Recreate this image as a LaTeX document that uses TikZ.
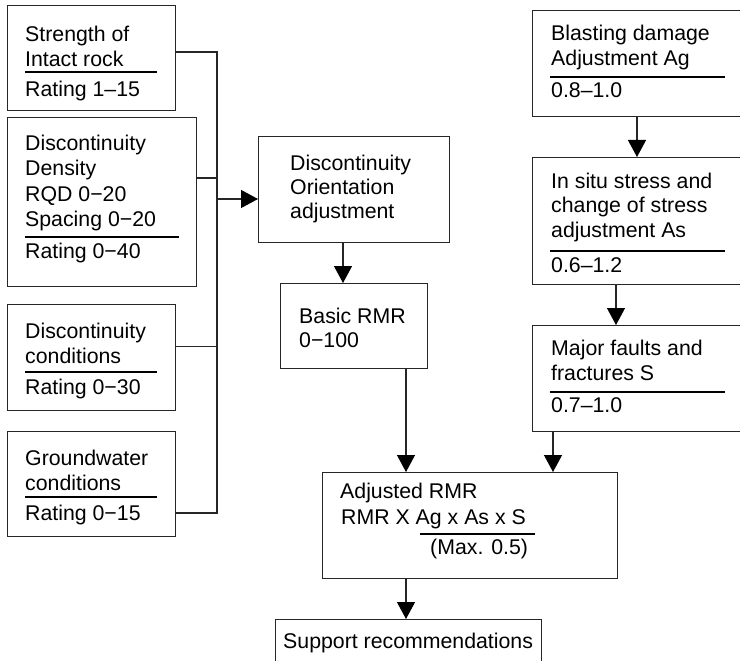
\documentclass[tikz,border=0pt]{standalone}
\usepackage{fontspec}
\setmainfont{Liberation Sans}
\usetikzlibrary{arrows.meta}
\tikzset{
  box/.style={draw=black!85, line width=1.3pt, inner sep=0pt, anchor=north west, rectangle},
  txt/.style={anchor=base west, inner sep=0pt, font=\fontsize{21.3}{25}\selectfont},
  rulel/.style={line width=2.2pt, black},
  conn/.style={draw=black!85, line width=1.3pt},
  arr/.style={conn, -{Triangle[length=17pt,width=18pt,color=black]}}
}
\begin{document}
\begin{tikzpicture}[x=1pt,y=-1pt]
\useasboundingbox (0,0) rectangle (740,661);
\clip (0,0) rectangle (740,661);
\fill[white] (0,0) rectangle (740,661);
% left column boxes
\node[box, minimum width=168pt, minimum height=105pt] (s1) at (7,5) {};
\node[box, minimum width=189pt, minimum height=169pt] (s2) at (7,117) {};
\node[box, minimum width=168pt, minimum height=106pt] (s3) at (7,304) {};
\node[box, minimum width=168pt, minimum height=105pt] (s4) at (7,431) {};
% middle
\node[box, minimum width=191pt, minimum height=106pt] (ori) at (258,136) {};
\node[box, minimum width=147pt, minimum height=85pt] (bas) at (280,283) {};
\node[box, minimum width=295pt, minimum height=106pt] (adj) at (322,472) {};
\node[box, minimum width=266pt, minimum height=70pt] (sup) at (275,619) {};
% right column
\node[box, minimum width=230pt, minimum height=106pt] (bl) at (532,10) {};
\node[box, minimum width=230pt, minimum height=127pt] (ins) at (532,157) {};
\node[box, minimum width=230pt, minimum height=106pt] (maj) at (532,325) {};

% texts left
\node[txt] (t11) at (25,42) {Strength of};
\node[txt] (t12) at (25,67) {Intact rock};
\node[txt] (t13) at (25,96) {Rating 1–15};
\draw[rulel] (25,72) -- (157,72);

\node[txt] (t21) at (25,150) {Discontinuity};
\node[txt] (t22) at (25,175.5) {Density};
\node[txt] (t23) at (25,201) {RQD 0−20};
\node[txt] (t24) at (25,226.5) {Spacing 0−20};
\draw[rulel] (25,237) -- (179,237);
\node[txt] (t25) at (25,258) {Rating 0−40};

\node[txt] (t31) at (25,338) {Discontinuity};
\node[txt] (t32) at (25,363) {conditions};
\draw[rulel] (25,372) -- (157,372);
\node[txt] (t33) at (25,394) {Rating 0−30};

\node[txt] (t41) at (25,465) {Groundwater};
\node[txt] (t42) at (25,490) {conditions};
\draw[rulel] (25,497) -- (157,497);
\node[txt] (t43) at (25,520) {Rating 0−15};

% middle texts
\node[txt] (o1) at (290,170) {Discontinuity};
\node[txt] (o2) at (290,194) {Orientation};
\node[txt] (o3) at (290,218) {adjustment};
\node[txt] (b1) at (299,323) {Basic RMR};
\node[txt] (b2) at (299,347) {0−100};
\node[txt] (a1) at (340,498) {Adjusted RMR};
\node[txt] (a2) at (341,524) {RMR X Ag x As x S};
\draw[rulel] (420,534) -- (535,534);
\node[txt] (a3) at (430,554) {(Max. 0.5)};
\node[txt] (p1) at (283,648) {Support recommendations};

% right texts
\node[txt] (r11) at (551,40.5) {Blasting damage};
\node[txt] (r12) at (551,66) {Adjustment Ag};
\draw[rulel] (550,77) -- (725,77);
\node[txt] (r13) at (551,98) {0.8–1.0};
\node[txt] (r21) at (551,188) {In situ stress and};
\node[txt] (r22) at (551,212.5) {change of stress};
\node[txt] (r23) at (551,237) {adjustment As};
\draw[rulel] (550,251) -- (725,251);
\node[txt] (r24) at (551,272) {0.6–1.2};
\node[txt] (r31) at (551,355) {Major faults and};
\node[txt] (r32) at (551,380) {fractures S};
\draw[rulel] (550,392) -- (725,392);
\node[txt] (r33) at (551,412) {0.7–1.0};

% bus connectors
\coordinate (c1) at (217,52);
\coordinate (c2) at (217,178);
\coordinate (c3) at (217,346.5);
\coordinate (c4) at (217,513);
\coordinate (ca) at (217,199);
\draw[conn] (s1.east |- c1) -- (c1) -- (c4) -- (s4.east |- c4);
\draw[conn] (s2.east |- c2) -- (c2);
\draw[conn] (s3.east |- c3) -- (c3);
\draw[arr] (ca) -- (ori.west |- ca);

% vertical arrows
\coordinate (xo) at (343,0);
\coordinate (xb) at (406,0);
\coordinate (xr1) at (637,0);
\coordinate (xr2) at (616,0);
\coordinate (xr3) at (553,0);
\draw[arr] (ori.south -| xo) -- (bas.north -| xo);
\draw[arr] (bas.south -| xb) -- (adj.north -| xb);
\draw[arr] (adj.south -| xb) -- (sup.north -| xb);
\draw[arr] (bl.south -| xr1) -- (ins.north -| xr1);
\draw[arr] (ins.south -| xr2) -- (maj.north -| xr2);
\draw[arr] (maj.south -| xr3) -- (adj.north -| xr3);
\end{tikzpicture}
\end{document}
